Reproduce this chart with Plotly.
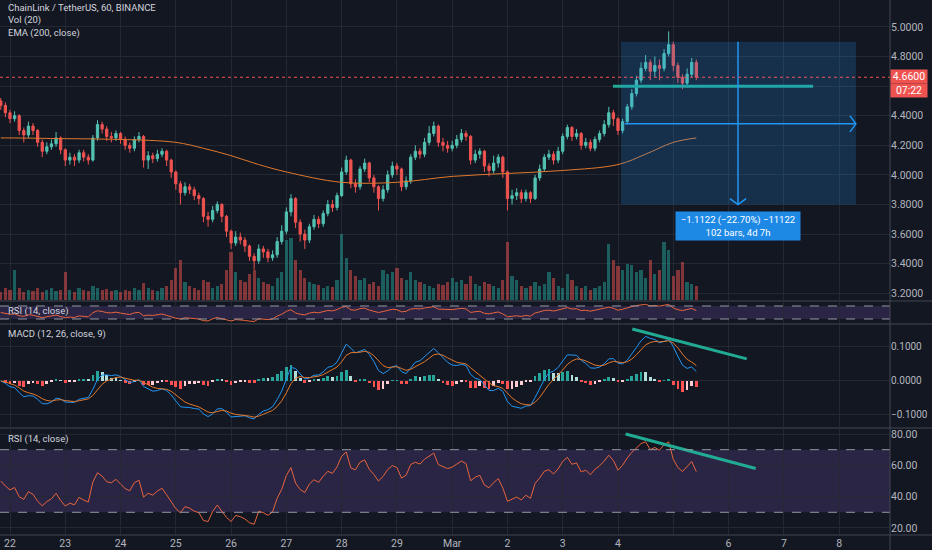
import numpy as np
import pandas as pd
import plotly.graph_objects as go
from plotly.subplots import make_subplots

# LINK/USDT in 2h steps (Feb 21 20:00 -> Mar 5 10:00, 2020)
# x is hours after Feb 22 00:00
first_hour = -4
first_open = 4.50
closes = [
    4.47, 4.42,
    4.38, 4.40, 4.30, 4.27, 4.33, 4.30, 4.22, 4.16, 4.19, 4.21, 4.25, 4.17,
    4.10, 4.12, 4.10, 4.15, 4.12, 4.10, 4.25, 4.34, 4.31, 4.26, 4.25, 4.28,
    4.24, 4.20, 4.18, 4.24, 4.26, 4.10, 4.13, 4.11, 4.14, 4.16, 4.10, 4.02,
    3.94, 3.88, 3.92, 3.90, 3.86, 3.84, 3.72, 3.70, 3.76, 3.80, 3.72, 3.62,
    3.54, 3.58, 3.56, 3.52, 3.45, 3.42, 3.50, 3.48, 3.44, 3.46, 3.55, 3.62,
    3.75, 3.84, 3.68, 3.60, 3.56, 3.65, 3.70, 3.67, 3.74, 3.80, 3.78, 3.86,
    4.02, 4.10, 3.94, 3.92, 4.04, 4.08, 3.98, 3.92, 3.84, 3.90, 4.00, 4.06,
    4.04, 3.92, 3.96, 4.12, 4.16, 4.14, 4.22, 4.28, 4.33, 4.22, 4.20, 4.18,
    4.20, 4.24, 4.28, 4.26, 4.10, 4.14, 4.16, 4.06, 4.03, 4.08, 4.12, 4.02,
    3.84, 3.86, 3.88, 3.84, 3.88, 3.84, 3.98, 4.04, 4.12, 4.14, 4.10, 4.16,
    4.26, 4.32, 4.26, 4.28, 4.20, 4.22, 4.18, 4.24, 4.28, 4.34, 4.42, 4.38,
    4.30, 4.36, 4.46, 4.55, 4.64, 4.72, 4.76, 4.70, 4.74, 4.72, 4.82, 4.88,
    4.74, 4.66, 4.62, 4.68, 4.76, 4.66,
]
highs = [
    4.52, 4.49,
    4.44, 4.43, 4.41, 4.32, 4.36, 4.35, 4.31, 4.24, 4.22, 4.24, 4.29, 4.26,
    4.18, 4.15, 4.14, 4.17, 4.17, 4.14, 4.27, 4.37, 4.36, 4.33, 4.29, 4.30,
    4.29, 4.26, 4.22, 4.26, 4.29, 4.27, 4.16, 4.15, 4.17, 4.18, 4.17, 4.11,
    4.03, 3.96, 3.95, 3.94, 3.92, 3.88, 3.85, 3.75, 3.79, 3.82, 3.81, 3.73,
    3.63, 3.62, 3.61, 3.58, 3.53, 3.47, 3.53, 3.52, 3.50, 3.49, 3.58, 3.66,
    3.78, 3.87, 3.85, 3.70, 3.63, 3.67, 3.73, 3.72, 3.76, 3.83, 3.83, 3.88,
    4.05, 4.13, 4.11, 3.97, 4.06, 4.11, 4.09, 4.00, 3.93, 3.93, 4.03, 4.09,
    4.08, 4.05, 3.99, 4.14, 4.20, 4.18, 4.25, 4.33, 4.36, 4.34, 4.25, 4.23,
    4.23, 4.27, 4.31, 4.30, 4.27, 4.17, 4.18, 4.17, 4.08, 4.13, 4.14, 4.13,
    4.03, 3.90, 3.91, 3.90, 3.90, 3.89, 4.00, 4.07, 4.14, 4.17, 4.16, 4.19,
    4.28, 4.34, 4.33, 4.31, 4.29, 4.25, 4.24, 4.26, 4.30, 4.37, 4.46, 4.44,
    4.39, 4.38, 4.48, 4.58, 4.67, 4.76, 4.81, 4.78, 4.80, 4.78, 4.85, 4.97,
    4.90, 4.76, 4.68, 4.72, 4.79, 4.78,
]
lows = [
    4.44, 4.39,
    4.35, 4.36, 4.27, 4.22, 4.25, 4.27, 4.19, 4.12, 4.14, 4.17, 4.19, 4.14,
    4.06, 4.07, 4.06, 4.08, 4.09, 4.07, 4.09, 4.23, 4.28, 4.23, 4.22, 4.23,
    4.21, 4.17, 4.15, 4.16, 4.22, 4.05, 4.04, 4.08, 4.09, 4.12, 4.06, 3.98,
    3.90, 3.80, 3.86, 3.87, 3.83, 3.80, 3.68, 3.65, 3.68, 3.74, 3.68, 3.58,
    3.50, 3.52, 3.53, 3.48, 3.42, 3.36, 3.40, 3.44, 3.41, 3.42, 3.44, 3.53,
    3.60, 3.72, 3.64, 3.55, 3.50, 3.54, 3.63, 3.64, 3.65, 3.72, 3.75, 3.76,
    3.85, 4.00, 3.91, 3.88, 3.90, 4.02, 3.95, 3.88, 3.76, 3.82, 3.88, 3.98,
    4.00, 3.89, 3.90, 3.94, 4.10, 4.11, 4.12, 4.20, 4.26, 4.19, 4.16, 4.15,
    4.16, 4.18, 4.22, 4.23, 4.07, 4.08, 4.11, 4.02, 3.99, 4.01, 4.05, 3.98,
    3.76, 3.80, 3.83, 3.81, 3.82, 3.81, 3.83, 3.96, 4.02, 4.10, 4.07, 4.08,
    4.14, 4.24, 4.23, 4.24, 4.17, 4.18, 4.16, 4.16, 4.22, 4.26, 4.32, 4.33,
    4.27, 4.28, 4.34, 4.44, 4.53, 4.62, 4.70, 4.64, 4.66, 4.64, 4.70, 4.80,
    4.70, 4.62, 4.58, 4.59, 4.66, 4.64,
]
# volume in thousands of LINK
volumes = [
    8, 12,
    10, 30, 12, 8, 10, 9, 12, 8, 10, 12, 9, 10,
    28, 10, 8, 12, 10, 9, 14, 12, 10, 11, 9, 10,
    8, 10, 9, 12, 10, 17, 12, 10, 9, 12, 14, 20,
    32, 40, 18, 14, 12, 10, 20, 18, 12, 14, 16, 30,
    48, 28, 20, 18, 26, 30, 22, 18, 16, 14, 22, 28,
    60, 62, 40, 30, 22, 18, 16, 15, 12, 14, 13, 20,
    66, 42, 30, 24, 20, 22, 16, 18, 14, 30, 26, 28,
    32, 22, 20, 28, 20, 18, 16, 14, 12, 16, 15, 18,
    22, 18, 20, 16, 24, 16, 14, 18, 16, 14, 12, 20,
    58, 24, 20, 14, 12, 14, 18, 14, 16, 28, 22, 14,
    12, 26, 20, 14, 12, 14, 10, 12, 14, 18, 56, 40,
    34, 30, 36, 35, 28, 30, 22, 40, 26, 30, 58, 50,
    24, 30, 38, 18, 16, 14,
]

# EMA 200 as drawn
ema_hours = [-4, 0, 24, 48, 72, 84, 96, 108, 120, 144, 168, 192, 216, 240, 264, 276, 288, 298]
ema_vals = [4.25, 4.25, 4.245, 4.24, 4.22, 4.18, 4.13, 4.07, 4.02, 3.95, 3.95, 3.99,
            4.01, 4.03, 4.07, 4.14, 4.22, 4.25]

day_labels = ["22", "23", "24", "25", "26", "27", "28", "29", "Mar", "2", "3", "4", "", "6", "7", "8"]
price_ticks = [3.2, 3.4, 3.6, 3.8, 4.0, 4.2, 4.4, 4.6, 4.8, 5.0]

# drawings on the chart (hours / price)
last_price = 4.66
box_hours = [265.3, 367.3]
box_prices = [3.80, 4.90]
arrow_hour = 316.1
arrow_price = 4.345
support_hours = [261.8, 348.7]
support_price = 4.60
macd_trend_hours = [270.2, 319.9]
macd_trend_vals = [0.153, 0.065]
rsi_trend_hours = [267.3, 323.8]
rsi_trend_vals = [80, 58]

BG = "#131722"
GRID = "#242833"
TXT = "#b2b5be"
UP = "#53c2b2"
DOWN = "#ef5350"
TEAL = "#22ab94"
BLUE = "#2196f3"


def calculate_indicators(df):
    # 2h bars instead of 1h, so the smoothing is adjusted a bit.
    # RSI averages start neutral since there is no history before the first bar.
    delta = df["Close"].diff().fillna(0).values
    avg_gain, avg_loss = 0.03, 0.03
    rsi = []
    for d in delta:
        avg_gain += (max(d, 0) - avg_gain) / 14
        avg_loss += (max(-d, 0) - avg_loss) / 14
        rsi.append(100 - 100 / (1 + avg_gain / avg_loss))
    df["RSI"] = rsi

    df["MACD"] = df["Close"].ewm(span=6, adjust=False).mean() - df["Close"].ewm(span=13, adjust=False).mean()
    df["MACD_signal"] = df["MACD"].ewm(span=4.5, adjust=False).mean()
    df["MACD_hist"] = df["MACD"] - df["MACD_signal"]
    return df


hours = first_hour + 2 * np.arange(len(closes))
df = pd.DataFrame({"Close": closes, "High": highs, "Low": lows, "Volume": volumes}, index=hours)
df["Open"] = df["Close"].shift(1).fillna(first_open)
df = calculate_indicators(df)

up = df["Close"] >= df["Open"]
vol_colors = np.where(up, "rgba(38,166,154,0.5)", "rgba(239,83,80,0.5)")

hist = df["MACD_hist"].values
prev = np.r_[hist[0], hist[:-1]]
hist_colors = np.where(hist >= 0,
                       np.where(hist >= prev, "#26a69a", "#b2dfdb"),
                       np.where(hist < prev, "#ff5252", "#ffcdd2"))

fig = make_subplots(rows=4, cols=1, shared_xaxes=True, vertical_spacing=0,
                    specs=[[{"secondary_y": True}], [{}], [{}], [{}]])

# main pane
fig.add_trace(go.Bar(x=hours, y=df["Volume"], marker=dict(color=vol_colors, line_width=0),
                     width=1.4), row=1, col=1, secondary_y=True)
fig.add_trace(go.Candlestick(x=hours, open=df["Open"], high=df["High"], low=df["Low"], close=df["Close"],
                             increasing=dict(line=dict(color=UP, width=1), fillcolor=UP),
                             decreasing=dict(line=dict(color=DOWN, width=1), fillcolor=DOWN),
                             whiskerwidth=0), row=1, col=1)
fig.add_trace(go.Scatter(x=ema_hours, y=ema_vals, mode="lines",
                         line=dict(color="#e0782c", width=1, shape="spline")), row=1, col=1)
fig.add_trace(go.Scatter(x=support_hours, y=[support_price] * 2, mode="lines",
                         line=dict(color=TEAL, width=3)), row=1, col=1)

# small rsi pane
fig.add_trace(go.Scatter(x=hours, y=df["RSI"], mode="lines", line=dict(color="#e8643c", width=1)), row=2, col=1)

# macd pane
fig.add_trace(go.Bar(x=hours, y=df["MACD_hist"], marker=dict(color=hist_colors, line_width=0),
                     width=1.2), row=3, col=1)
fig.add_trace(go.Scatter(x=hours, y=df["MACD"], mode="lines", line=dict(color=BLUE, width=1)), row=3, col=1)
fig.add_trace(go.Scatter(x=hours, y=df["MACD_signal"], mode="lines", line=dict(color="#e0782c", width=1)), row=3, col=1)
fig.add_trace(go.Scatter(x=macd_trend_hours, y=macd_trend_vals, mode="lines",
                         line=dict(color=TEAL, width=3)), row=3, col=1)

# rsi pane
fig.add_trace(go.Scatter(x=hours, y=df["RSI"], mode="lines", line=dict(color="#e8643c", width=1)), row=4, col=1)
fig.add_trace(go.Scatter(x=rsi_trend_hours, y=rsi_trend_vals, mode="lines",
                         line=dict(color=TEAL, width=3)), row=4, col=1)

# rsi bands
for yref in ("y3", "y5"):
    fig.add_shape(type="rect", xref="paper", yref=yref, x0=0, x1=1, y0=30, y1=70,
                  fillcolor="rgba(126,87,194,0.22)", line_width=0, layer="below")
    for lvl in (30, 70):
        fig.add_shape(type="line", xref="paper", yref=yref, x0=0, x1=1, y0=lvl, y1=lvl,
                      line=dict(color="#9598a1", width=1, dash="dash"))

# measure box with arrows
fig.add_shape(type="rect", xref="x", yref="y", x0=box_hours[0], x1=box_hours[1],
              y0=box_prices[0], y1=box_prices[1], fillcolor="rgba(33,150,243,0.2)", line_width=0)
fig.add_trace(go.Scatter(x=[arrow_hour, arrow_hour], y=box_prices[::-1], mode="lines",
                         line=dict(color=BLUE, width=1.5)), row=1, col=1)
fig.add_trace(go.Scatter(x=[arrow_hour - 3.5, arrow_hour, arrow_hour + 3.5],
                         y=[box_prices[0] + 0.04, box_prices[0], box_prices[0] + 0.04], mode="lines",
                         line=dict(color=BLUE, width=1.5)), row=1, col=1)
fig.add_trace(go.Scatter(x=[box_hours[0] + 1.7, box_hours[1]], y=[arrow_price] * 2, mode="lines",
                         line=dict(color=BLUE, width=1.5)), row=1, col=1)
fig.add_trace(go.Scatter(x=[box_hours[1] - 2.6, box_hours[1], box_hours[1] - 2.6],
                         y=[arrow_price + 0.054, arrow_price, arrow_price - 0.054], mode="lines",
                         line=dict(color=BLUE, width=1.5)), row=1, col=1)
fig.add_annotation(x=arrow_hour, y=3.655, xref="x", yref="y", showarrow=False,
                   text="\u22121.1122 (\u221222.70%) \u221211122<br>102 bars, 4d 7h",
                   font=dict(color="white", size=9.5), bgcolor="#1e88e5", width=122, height=26,
                   borderpad=1)

# last price line + labels
fig.add_shape(type="line", xref="paper", yref="y", x0=0, x1=1, y0=last_price, y1=last_price,
              line=dict(color=DOWN, width=1, dash="dot"))
fig.add_annotation(x=1, y=last_price + 0.005, xref="paper", yref="y", xanchor="left", showarrow=False,
                   text="4.6600", font=dict(color="white", size=10.5), bgcolor=DOWN, width=34, height=11)
fig.add_annotation(x=1, y=last_price - 0.092, xref="paper", yref="y", xanchor="left", showarrow=False,
                   text="07:22", font=dict(color="white", size=10.5), bgcolor=DOWN, width=34, height=11)

# pane separators and price scale border
for py in (0.4374, 0.3944, 0.2000, 0):
    fig.add_shape(type="line", xref="paper", yref="paper", x0=0, x1=1.05, y0=py, y1=py,
                  line=dict(color="#434651", width=1))
fig.add_shape(type="line", xref="paper", yref="paper", x0=1, x1=1, y0=-0.03, y1=1,
              line=dict(color="#434651", width=1))

# pane titles
fig.add_annotation(x=0.0067, y=1.0, xref="paper", yref="paper", xanchor="left", yanchor="top",
                   showarrow=False, align="left", font=dict(color="#d1d4dc", size=9.5),
                   text="ChainLink / TetherUS, 60, BINANCE<br>Vol (20)<br>EMA (200, close)")
for txt, py in [("RSI (14, close)", 0.4187), ("MACD (12, 26, close, 9)", 0.3757), ("RSI (14, close)", 0.1794)]:
    fig.add_annotation(x=0.0067, y=py, xref="paper", yref="paper", xanchor="left", yanchor="middle",
                       showarrow=False, text=txt, font=dict(color="#d1d4dc", size=9.5))

day_ticks = [24 * d for d in range(len(day_labels))]
fig.update_xaxes(domain=[0, 1], range=[-4.34, 382.1], tickvals=day_ticks, ticktext=day_labels,
                 showgrid=True, gridcolor=GRID, zeroline=False, rangeslider_visible=False,
                 tickfont=dict(color=TXT, size=10.5), ticks="", automargin=False)
fig.update_xaxes(showticklabels=True, row=4, col=1)

fig.update_yaxes(gridcolor=GRID, zeroline=False, tickfont=dict(color=TXT, size=10.5), ticks="",
                 automargin=False)
fig.update_yaxes(domain=[0.4393, 1], range=[3.155, 5.182], tickvals=price_ticks,
                 ticktext=["%.4f" % p if p != 4.6 else "" for p in price_ticks],
                 side="right", row=1, col=1, secondary_y=False)
fig.update_yaxes(range=[0, 300], showgrid=False, showticklabels=False, row=1, col=1, secondary_y=True)
fig.update_yaxes(domain=[0.3963, 0.4355], range=[17.7, 82.3], showgrid=False, showticklabels=False, row=2, col=1)
fig.update_yaxes(domain=[0.2019, 0.3944], range=[-0.1353, 0.1676], tickvals=[-0.1, 0, 0.1],
                 tickformat=".4f", side="right", tickfont_size=10, row=3, col=1)
fig.update_yaxes(domain=[0, 0.1981], range=[15.5, 83.2], tickvals=[20, 40, 60, 80],
                 tickformat=".2f", side="right", row=4, col=1)

fig.update_layout(width=932, height=550, margin=dict(l=0, r=42, t=0, b=15),
                  paper_bgcolor=BG, plot_bgcolor=BG, showlegend=False, bargap=0,
                  font=dict(family="Roboto, sans-serif", color=TXT))

fig.write_html("out.html", config={"displayModeBar": False},
               post_script="document.body.style.margin='0';document.body.style.overflow='hidden';")
